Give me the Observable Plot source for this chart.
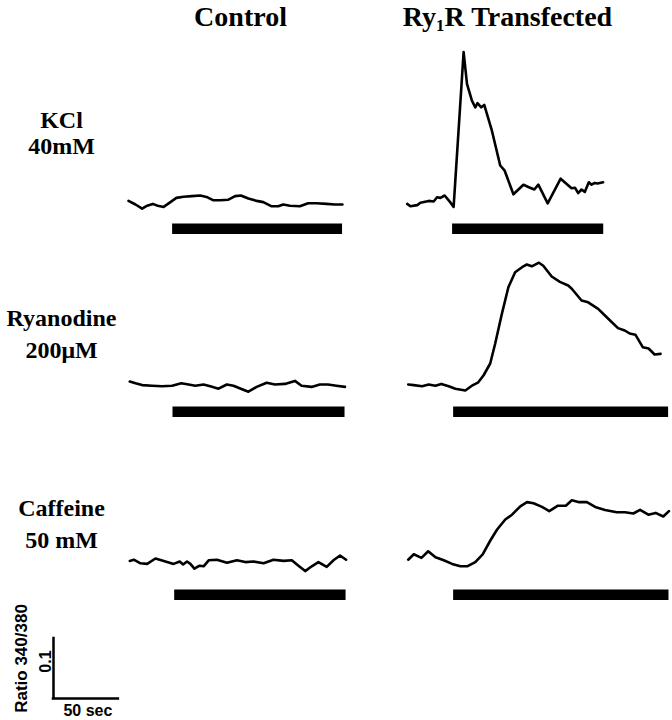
<!DOCTYPE html>
<html>
<head>
<meta charset="utf-8">
<script src="https://cdn.jsdelivr.net/npm/d3@7"></script>
<script src="https://cdn.jsdelivr.net/npm/@observablehq/plot@0.6"></script>
<style>
  html, body { margin: 0; padding: 0; background: #fff; }
  #chart { width: 672px; height: 720px; overflow: hidden; background: #fff; }
  #chart svg { display: block; overflow: visible; }
</style>
</head>
<body>
<div id="chart"></div>
<script>
// ---------------- DATA ----------------
const columns = ["Control", "Transfected"];
const columnTitles = ["Control", "Ry1R Transfected"];
const rows = ["KCl", "Ryanodine", "Caffeine"];
const rowTitles = ["KCl\n40mM", "Ryanodine\n200μM", "Caffeine\n50 mM"];

// time (s) and fura-2 ratio 340/380 for each trace
const kclControlTime = [0, 5.4, 10.5, 14.4, 18.7, 22.5, 27.1, 32.3, 36.9, 42.5, 48.9, 55.3, 60.9, 65.5, 70.7, 77.0, 82.2, 86.6, 92.4, 98.8, 103.9, 110.4, 115.4, 119.3, 124.4, 132.1, 138.5, 144.9, 152.6, 159.0, 164.9];
const kclControlRatio = [0.506, 0.500, 0.493, 0.498, 0.501, 0.498, 0.496, 0.504, 0.511, 0.513, 0.514, 0.515, 0.512, 0.507, 0.507, 0.508, 0.514, 0.515, 0.510, 0.506, 0.504, 0.497, 0.497, 0.500, 0.498, 0.497, 0.502, 0.502, 0.501, 0.500, 0.500];

const kclTransTime = [1.3, 3.8, 9.0, 11.5, 17.9, 21.7, 24.3, 26.9, 30.2, 33.3, 37.1, 44.8, 47.4, 51.2, 53.8, 55.5, 58.4, 60.7, 66.6, 73.0, 76.3, 83.2, 90.9, 96.0, 99.3, 102.4, 109.6, 119.6, 128.0, 130.6, 133.1, 135.7, 138.2, 141.3, 143.4, 145.9, 148.0, 152.3];
const kclTransRatio = [0.501, 0.497, 0.499, 0.503, 0.506, 0.505, 0.512, 0.511, 0.515, 0.507, 0.496, 0.754, 0.701, 0.673, 0.662, 0.669, 0.662, 0.666, 0.623, 0.565, 0.557, 0.517, 0.533, 0.528, 0.525, 0.533, 0.502, 0.543, 0.527, 0.528, 0.519, 0.525, 0.521, 0.537, 0.533, 0.536, 0.535, 0.537];

const ryaControlTime = [1.0, 5.4, 10.5, 18.2, 25.9, 33.6, 40.7, 46.3, 51.5, 57.8, 63.0, 69.4, 75.8, 80.9, 86.6, 92.4, 98.8, 106.5, 112.9, 120.6, 128.3, 133.4, 141.1, 147.5, 153.8, 160.3, 166.9];
const ryaControlRatio = [0.510, 0.507, 0.504, 0.503, 0.502, 0.503, 0.507, 0.505, 0.503, 0.505, 0.502, 0.498, 0.505, 0.503, 0.498, 0.493, 0.501, 0.508, 0.505, 0.506, 0.511, 0.503, 0.501, 0.505, 0.505, 0.503, 0.501];

const ryaTransTime = [2.1, 6.4, 12.8, 17.9, 23.0, 27.6, 33.3, 38.4, 46.1, 51.2, 55.8, 60.1, 65.3, 69.1, 74.3, 79.3, 84.5, 90.9, 93.5, 97.3, 102.9, 106.2, 112.7, 119.0, 125.4, 128.0, 135.7, 140.8, 148.5, 156.1, 163.8, 169.0, 172.8, 177.2, 183.0, 187.4, 192.0, 196.6];
const ryaTransRatio = [0.505, 0.504, 0.502, 0.505, 0.503, 0.506, 0.502, 0.498, 0.495, 0.503, 0.508, 0.520, 0.540, 0.573, 0.623, 0.667, 0.692, 0.702, 0.705, 0.702, 0.708, 0.703, 0.685, 0.676, 0.670, 0.665, 0.645, 0.642, 0.631, 0.615, 0.599, 0.595, 0.590, 0.588, 0.567, 0.565, 0.555, 0.556];

const cafControlTime = [1.0, 4.1, 9.2, 14.4, 20.8, 27.2, 34.8, 39.5, 42.1, 45.1, 47.7, 50.8, 54.8, 57.9, 61.8, 68.2, 75.9, 83.6, 90.0, 96.4, 104.1, 111.8, 119.5, 125.9, 131.0, 136.2, 141.3, 146.4, 152.8, 158.0, 163.1, 167.7];
const cafControlRatio = [0.516, 0.518, 0.512, 0.511, 0.520, 0.516, 0.511, 0.515, 0.510, 0.515, 0.511, 0.503, 0.508, 0.507, 0.517, 0.518, 0.513, 0.517, 0.514, 0.515, 0.512, 0.518, 0.516, 0.517, 0.508, 0.499, 0.507, 0.514, 0.506, 0.517, 0.525, 0.518];

const cafTransTime = [2.1, 6.4, 12.3, 17.5, 23.1, 29.5, 35.9, 42.3, 47.5, 53.8, 59.5, 65.4, 70.5, 76.9, 82.1, 88.5, 93.6, 98.7, 105.2, 110.8, 117.5, 123.6, 128.2, 133.3, 139.8, 146.2, 153.8, 162.8, 169.2, 175.6, 180.8, 187.2, 192.8, 198.7, 203.1];
const cafTransRatio = [0.518, 0.527, 0.521, 0.532, 0.522, 0.517, 0.511, 0.507, 0.507, 0.514, 0.527, 0.550, 0.568, 0.585, 0.593, 0.607, 0.614, 0.612, 0.606, 0.599, 0.608, 0.608, 0.617, 0.614, 0.614, 0.606, 0.601, 0.597, 0.597, 0.595, 0.601, 0.593, 0.596, 0.590, 0.599];

// drug application periods (black bars)
const treatmentRow = ["KCl", "KCl", "Ryanodine", "Ryanodine", "Caffeine", "Caffeine"];
const treatmentCol = ["Control", "Transfected", "Control", "Transfected", "Control", "Transfected"];
const treatmentStart = [34.0, 36.3, 34.3, 37.1, 35.6, 37.1];
const treatmentEnd = [165.0, 152.8, 166.9, 202.8, 167.7, 203.1];

// calibration bar
const scaleBarSeconds = 50;
const scaleBarRatio = 0.1;
const scaleBarTimeLabel = "50 sec";
const scaleBarRatioLabel = "0.1";
const scaleBarAxisLabel = "Ratio 340/380";

// ---------------- TABLES ----------------
const traces = [
  {row: "KCl", col: "Control", t: kclControlTime, r: kclControlRatio},
  {row: "KCl", col: "Transfected", t: kclTransTime, r: kclTransRatio},
  {row: "Ryanodine", col: "Control", t: ryaControlTime, r: ryaControlRatio},
  {row: "Ryanodine", col: "Transfected", t: ryaTransTime, r: ryaTransRatio},
  {row: "Caffeine", col: "Control", t: cafControlTime, r: cafControlRatio},
  {row: "Caffeine", col: "Transfected", t: cafTransTime, r: cafTransRatio}
];
const traceTable = traces.flatMap(tr => tr.t.map((t, i) => ({row: tr.row, col: tr.col, key: tr.row + "|" + tr.col, t, ratio: tr.r[i]})));
const barTable = treatmentRow.map((row, i) => ({row, col: treatmentCol[i], start: treatmentStart[i], end: treatmentEnd[i]}));

// ---------------- LAYOUT ----------------
const W = 672, H_MAIN = 604, H_SCALE = 116;
const M = {top: 51, right: 3, bottom: 4, left: 128};
const panelW = 264, panelGap = 13;
const rowH = (H_MAIN - M.top - M.bottom) / rows.length; // 183
const pxPerRatio = 600;
const yMin = 0.45;
const barThickness = 10.5;
const serif = "Liberation Serif, Times New Roman, serif";
const sans = "Liberation Sans, Arial, sans-serif";
const titleLayout = {Control: {dx: 112}, Transfected: {dx: 102}};
const rowLabelLayout = {
  KCl: {dy: 81, lineHeight: 1.1},
  Ryanodine: {dy: 97, lineHeight: 1.33},
  Caffeine: {dy: 104, lineHeight: 1.35}
};

const chart = Plot.plot({
  width: W,
  height: H_MAIN,
  marginTop: M.top, marginRight: M.right, marginBottom: M.bottom, marginLeft: M.left,
  fx: {domain: columns, paddingInner: panelGap / (panelW + panelGap), paddingOuter: 0, round: false, axis: null},
  fy: {domain: rows, padding: 0, round: false, axis: null},
  x: {domain: [0, 203.5], axis: null},
  y: {domain: [yMin, yMin + rowH / pxPerRatio], axis: null},
  marks: [
    Plot.rect(barTable, {fx: "col", fy: "row", x1: "start", x2: "end", fill: "black", insetTop: rowH - barThickness}),
    Plot.line(traceTable, {fx: "col", fy: "row", x: "t", y: "ratio", z: "key", stroke: "black", strokeWidth: 2.6, strokeLinejoin: "round", strokeLinecap: "round"}),
    ...columns.map((c, i) => Plot.text([columnTitles[i]], {
      fx: [c], fy: [rows[0]], text: d => d,
      frameAnchor: "top-left", textAnchor: "middle", lineAnchor: "middle",
      dx: titleLayout[c].dx, dy: -34,
      fontFamily: serif, fontWeight: "bold", fontSize: 28, fill: "black"
    })),
    ...rows.map((r, i) => Plot.text([rowTitles[i]], {
      fx: [columns[0]], fy: [r], text: d => d,
      frameAnchor: "top-left", textAnchor: "middle", lineAnchor: "middle",
      lineHeight: rowLabelLayout[r].lineHeight,
      dx: -67, dy: rowLabelLayout[r].dy,
      fontFamily: serif, fontWeight: "bold", fontSize: 24, fill: "black"
    }))
  ]
});

// subscript the "1" of Ry1R
d3.select(chart).selectAll("text").filter(function () { return this.textContent === "Ry1R Transfected"; }).each(function () {
  const t = d3.select(this);
  t.text(null);
  t.append("tspan").text("Ry");
  t.append("tspan").attr("font-size", "60%").attr("dy", 5).text("1");
  t.append("tspan").attr("dy", -5).text("R Transfected");
});

// calibration bar uses the same px-per-unit as the traces
const xs = chart.scale("x");
const pxPerSec = (xs.range[1] - xs.range[0]) / (xs.domain[1] - xs.domain[0]);
const ys = chart.scale("y");
const pxPerR = Math.abs(ys.range[0] - ys.range[1]) / Math.abs(ys.domain[1] - ys.domain[0]);
const originX = 53, originY = 94;

const scaleChart = Plot.plot({
  width: W,
  height: H_SCALE,
  margin: 0,
  x: {domain: [0, scaleBarSeconds], range: [originX, originX + scaleBarSeconds * pxPerSec], axis: null},
  y: {domain: [0, scaleBarRatio], range: [originY, originY - scaleBarRatio * pxPerR], axis: null},
  marks: [
    Plot.ruleX([0], {y1: 0, y2: scaleBarRatio, stroke: "black", strokeWidth: 2.5, strokeLinecap: "square"}),
    Plot.ruleY([0], {x1: 0, x2: scaleBarSeconds, stroke: "black", strokeWidth: 2.5, strokeLinecap: "square"}),
    Plot.text([scaleBarRatioLabel], {x: 0, y: scaleBarRatio / 2, text: d => d, rotate: -90, dx: -8, dy: -7, fontFamily: sans, fontWeight: "bold", fontSize: 16, fill: "black"}),
    Plot.text([scaleBarAxisLabel], {x: 0, y: scaleBarRatio / 2, text: d => d, rotate: -90, dx: -32, dy: -10, fontFamily: sans, fontWeight: "bold", fontSize: 17, fill: "black"}),
    Plot.text([scaleBarTimeLabel], {x: scaleBarSeconds / 2, y: 0, text: d => d, dx: 2, dy: 12, fontFamily: sans, fontWeight: "bold", fontSize: 16, fill: "black"})
  ]
});

const root = document.getElementById("chart");
root.appendChild(chart);
root.appendChild(scaleChart);
</script>
</body>
</html>
